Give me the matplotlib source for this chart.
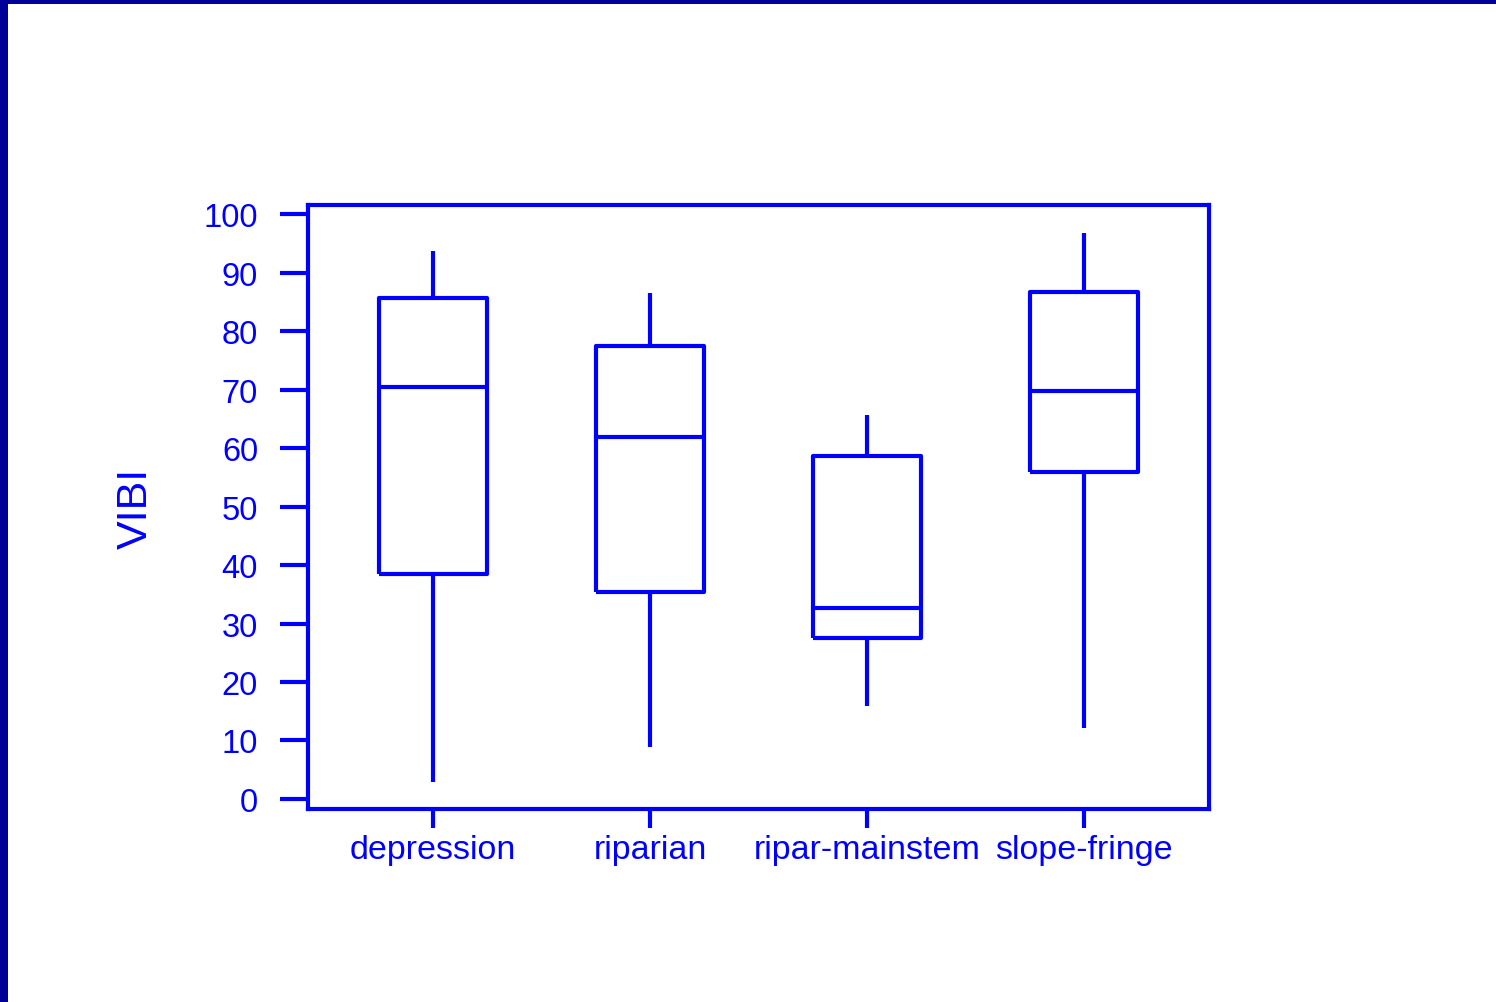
import matplotlib
matplotlib.use("Agg")
import matplotlib.pyplot as plt
from matplotlib.patches import Rectangle

BLUE = "#0000FF"
NAVY = "#000099"

categories = ["depression", "riparian", "ripar-mainstem", "slope-fringe"]
whisker_low = [2.9, 8.9, 15.9, 12.1]
q1 = [38.5, 35.4, 27.5, 55.9]
median = [70.4, 61.9, 32.6, 69.7]
q3 = [85.6, 77.4, 58.6, 86.7]
whisker_high = [93.7, 86.5, 65.6, 96.8]
y_ticks = list(range(0, 101, 10))

plt.rcParams["font.family"] = ["Liberation Sans", "DejaVu Sans"]

fig = plt.figure(figsize=(14.96, 10.03), dpi=100)
ax = fig.add_axes([308 / 1496, 1 - 810 / 1003, 901 / 1496, 604 / 1003])

stats = []
for i, name in enumerate(categories):
    stats.append({
        "label": name,
        "whislo": whisker_low[i],
        "q1": q1[i],
        "med": median[i],
        "q3": q3[i],
        "whishi": whisker_high[i],
        "fliers": [],
    })

line = dict(color=BLUE, linewidth=3.0, solid_capstyle="butt")
ax.bxp(stats, positions=range(1, 5), widths=0.5, showfliers=False,
       showcaps=False, boxprops=line, whiskerprops=line, medianprops=line)

ax.set_xlim(0.424, 4.576)
ax.set_ylim(-1.71, 101.54)
ax.set_yticks(y_ticks)
ax.set_yticklabels([str(t) for t in y_ticks])
ax.set_xticks(range(1, 5))
ax.set_xticklabels(categories)

for s in ax.spines.values():
    s.set_color(BLUE)
    s.set_linewidth(3.0)

ax.tick_params(axis="y", direction="out", length=20, width=3.0, pad=16,
               colors=BLUE, labelsize=23.5)
ax.tick_params(axis="x", direction="out", length=14, width=3.0, pad=4,
               colors=BLUE, labelsize=24.5)
ax.set_ylabel("VIBI", color=BLUE, fontsize=31, labelpad=34)

# frame bands along the top and left edges
fig.add_artist(Rectangle((0, 1 - 5 / 1003), 1, 5 / 1003,
                         transform=fig.transFigure, color=NAVY, lw=0))
fig.add_artist(Rectangle((0, 0), 8 / 1496, 1,
                         transform=fig.transFigure, color=NAVY, lw=0))

fig.savefig("out.png", dpi=100)
